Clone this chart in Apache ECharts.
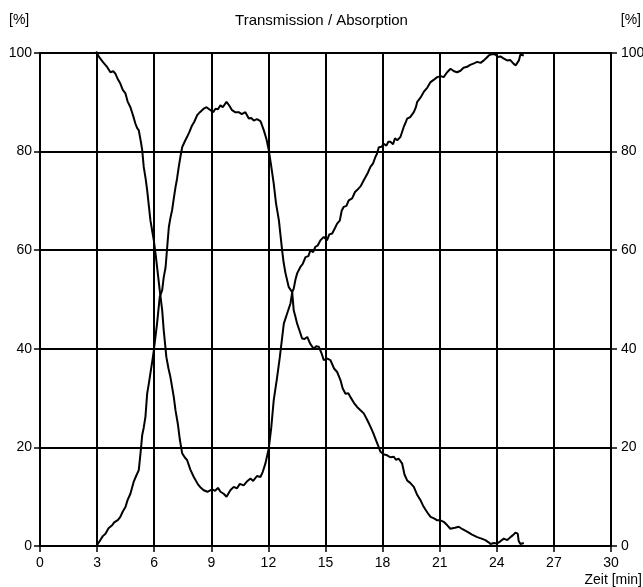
<!DOCTYPE html>
<html>
<head>
<meta charset="utf-8">
<script src="https://cdn.jsdelivr.net/npm/echarts@6/dist/echarts.min.js"></script>
<style>
html,body{margin:0;padding:0;background:#fff;}
#chart{width:643px;height:587px;}
</style>
</head>
<body>
<div id="chart"></div>
<script>
const chartTitle = "Transmission / Absorption";
const xAxisName = "Zeit [min]";
const yUnit = "[%]";
const xTicks = [0, 3, 6, 9, 12, 15, 18, 21, 24, 27, 30];
const yTicks = [0, 20, 40, 60, 80, 100];

// Curve 1: falls from 100 to ~10 and rises back to ~100
const curve1 = [[2.95,100.3],[3.1,99.2],[3.3,98.2],[3.5,97.3],[3.7,96.1],[3.85,96.3],[3.96,95.8],[4.1,94.6],[4.22,93.8],[4.35,92.5],[4.49,91.8],[4.6,90.2],[4.75,89.0],[4.9,87.2],[5.01,85.7],[5.1,84.8],[5.19,84.3],[5.3,82.0],[5.37,80.3],[5.45,76.9],[5.55,74.5],[5.63,72.2],[5.72,69.0],[5.80,66.1],[5.9,63.8],[5.98,62.0],[6.08,59.0],[6.15,56.6],[6.29,51.9],[6.42,47.8],[6.5,43.8],[6.64,38.3],[6.75,36.0],[6.85,34.3],[7.03,30.2],[7.12,27.5],[7.24,24.8],[7.35,21.5],[7.47,18.8],[7.6,18.0],[7.73,17.4],[7.9,15.5],[8.08,14.0],[8.3,12.5],[8.45,11.8],[8.6,11.3],[8.8,11.0],[9.04,11.5],[9.2,11.2],[9.35,11.8],[9.48,11.0],[9.65,10.6],[9.8,10.0],[10.0,11.3],[10.18,12.0],[10.35,11.7],[10.5,12.6],[10.7,12.3],[10.9,13.2],[11.06,13.7],[11.2,13.2],[11.4,14.2],[11.58,14.0],[11.7,15.0],[11.84,16.7],[12.02,19.8],[12.15,24.0],[12.28,29.6],[12.45,34.0],[12.6,38.3],[12.81,45.1],[12.98,47.1],[13.16,49.2],[13.25,51.5],[13.33,52.2],[13.42,54.0],[13.51,55.3],[13.68,56.6],[13.8,57.2],[13.95,58.6],[14.1,58.8],[14.21,60.0],[14.35,59.6],[14.47,60.7],[14.6,61.0],[14.73,62.0],[14.91,62.7],[15.08,62.0],[15.2,63.2],[15.35,63.4],[15.5,64.5],[15.61,65.4],[15.75,66.0],[15.85,68.0],[15.96,68.8],[16.1,69.0],[16.22,70.1],[16.4,70.5],[16.55,71.8],[16.66,72.2],[16.85,73.0],[17.01,74.2],[17.2,75.5],[17.36,76.9],[17.5,77.6],[17.62,78.9],[17.7,79.5],[17.8,80.9],[17.95,81.0],[18.06,81.6],[18.2,81.2],[18.3,82.0],[18.41,82.0],[18.55,81.5],[18.65,82.7],[18.77,82.3],[18.94,83.0],[19.11,85.0],[19.2,85.8],[19.29,86.7],[19.45,87.0],[19.64,88.0],[19.75,89.0],[19.82,90.1],[20.0,91.0],[20.16,92.1],[20.35,93.0],[20.52,94.1],[20.7,94.6],[20.87,95.1],[20.95,94.8],[21.05,95.3],[21.21,95.1],[21.39,96.1],[21.57,96.8],[21.75,96.3],[21.92,96.1],[22.09,96.4],[22.25,97.0],[22.44,97.2],[22.6,97.6],[22.8,97.9],[22.97,98.2],[23.15,98.0],[23.32,98.5],[23.45,99.0],[23.58,99.5],[23.75,99.8],[23.93,99.7],[24.05,99.2],[24.19,99.3],[24.35,98.9],[24.54,98.5],[24.7,98.6],[24.89,97.8],[25.0,97.5],[25.07,97.3],[25.16,98.5],[25.24,99.7],[25.42,99.5]];

// Curve 2: rises from 0 to ~90 and falls back to ~0
const curve2 = [[2.95,0],[3.05,0.5],[3.17,1.2],[3.3,2.0],[3.44,2.5],[3.6,3.6],[3.79,4.2],[3.9,4.8],[3.96,4.6],[4.1,5.3],[4.22,5.9],[4.35,7.0],[4.49,7.9],[4.6,9.3],[4.75,10.6],[4.92,13.0],[5.05,14.2],[5.19,15.4],[5.28,18.8],[5.37,22.5],[5.45,24.0],[5.54,26.2],[5.63,30.9],[5.72,33.0],[5.80,35.0],[5.9,37.5],[5.98,39.7],[6.15,45.1],[6.29,50.5],[6.42,51.9],[6.5,54.5],[6.6,56.6],[6.68,60.5],[6.77,64.7],[6.85,66.5],[6.94,68.1],[7.03,70.5],[7.12,72.8],[7.2,74.5],[7.29,76.9],[7.38,79.0],[7.47,80.9],[7.6,82.0],[7.73,83.0],[7.85,84.0],[7.99,85.3],[8.1,86.0],[8.26,87.4],[8.4,88.0],[8.6,88.7],[8.75,89.0],[8.96,88.4],[9.1,88.0],[9.22,88.7],[9.35,88.6],[9.48,89.4],[9.6,89.0],[9.8,90.1],[9.95,89.3],[10.09,88.4],[10.25,88.0],[10.44,88.0],[10.6,87.6],[10.79,88.0],[10.97,86.7],[11.1,86.8],[11.23,86.3],[11.4,86.6],[11.58,86.2],[11.65,85.5],[11.76,84.3],[11.9,82.5],[12.02,80.3],[12.15,77.0],[12.28,73.5],[12.4,69.5],[12.55,66.1],[12.72,60.0],[12.8,57.5],[12.9,55.3],[13.07,52.5],[13.25,51.5],[13.33,47.8],[13.42,46.5],[13.51,45.1],[13.65,43.5],[13.77,42.1],[13.9,42.0],[14.04,42.4],[14.2,41.0],[14.38,40.0],[14.5,40.5],[14.65,40.4],[14.8,39.0],[14.91,37.7],[15.1,38.0],[15.26,37.7],[15.45,36.0],[15.61,35.3],[15.79,33.6],[15.9,32.0],[16.05,30.9],[16.2,31.0],[16.31,30.2],[16.5,29.0],[16.66,28.2],[16.85,27.5],[17.01,26.9],[17.2,25.5],[17.36,24.2],[17.5,23.0],[17.62,21.8],[17.75,20.5],[17.89,19.1],[18.05,18.6],[18.24,18.4],[18.4,18.0],[18.59,18.1],[18.7,17.5],[18.85,17.7],[19.03,16.7],[19.15,14.5],[19.29,13.3],[19.45,12.8],[19.64,12.0],[19.8,10.5],[19.99,9.3],[20.15,8.0],[20.35,6.8],[20.52,5.9],[20.7,5.6],[20.87,5.2],[21.04,5.2],[21.21,4.9],[21.4,4.2],[21.56,3.5],[21.65,3.2],[21.8,3.7],[22.0,3.9],[22.2,3.4],[22.44,2.9],[22.7,2.3],[22.97,1.8],[23.2,1.5],[23.40,1.2],[23.55,0.8],[23.67,0.4],[23.85,0.6],[24.02,0.5],[24.2,1.0],[24.37,1.5],[24.55,1.2],[24.72,1.8],[24.85,2.2],[24.98,2.7],[25.1,2.5],[25.15,1.0],[25.24,0.4],[25.42,0.6]];

const FONT = 'Arial, "Liberation Sans", sans-serif';
const chart = echarts.init(document.getElementById('chart'), null, {renderer: 'canvas'});

const xMin = xTicks[0], xMax = xTicks[xTicks.length - 1];
const xStep = xTicks[1] - xTicks[0];
const yMin = yTicks[0], yMax = yTicks[yTicks.length - 1];
const yStep = yTicks[1] - yTicks[0];

const axisCommonY = {
  type: 'value', min: yMin, max: yMax, interval: yStep,
  axisLine: {show: true, lineStyle: {color: '#000', width: 2}},
  axisTick: {show: true, inside: false, length: 6, lineStyle: {color: '#000', width: 1.5}},
  axisLabel: {color: '#000', fontSize: 14, fontFamily: FONT, margin: 8},
  splitLine: {show: false}
};

chart.setOption({
  animation: false,
  backgroundColor: '#fff',
  grid: {left: 40, right: 32, top: 53, bottom: 41, containLabel: false, outerBoundsMode: 'none'},
  graphic: [
    {type: 'text', left: 'center', top: 13, style: {text: chartTitle, font: '15px ' + FONT, fill: '#000'}},
    {type: 'text', left: 9, top: 13, style: {text: yUnit, font: '14px ' + FONT, fill: '#000'}},
    {type: 'text', right: 2, top: 13, style: {text: yUnit, font: '14px ' + FONT, fill: '#000'}},
    {type: 'text', right: 1, top: 573, style: {text: xAxisName, font: '14px ' + FONT, fill: '#000'}}
  ],
  xAxis: {
    type: 'value', min: xMin, max: xMax, interval: xStep,
    axisLine: {show: true, onZero: false, lineStyle: {color: '#000', width: 2}},
    axisTick: {show: true, inside: false, length: 6, lineStyle: {color: '#000', width: 1.5}},
    axisLabel: {color: '#000', fontSize: 14, fontFamily: FONT, margin: 10},
    splitLine: {show: true, lineStyle: {color: '#000', width: 2}}
  },
  yAxis: [
    Object.assign({}, axisCommonY, {position: 'left', splitLine: {show: true, lineStyle: {color: '#000', width: 2}}}),
    Object.assign({}, axisCommonY, {position: 'right', axisLabel: {color: '#000', fontSize: 14, fontFamily: FONT, margin: 10}})
  ],
  series: [
    {type: 'line', data: curve1, showSymbol: false, symbol: 'none', clip: false,
     lineStyle: {color: '#000', width: 2}, z: 5},
    {type: 'line', data: curve2, showSymbol: false, symbol: 'none', clip: false,
     lineStyle: {color: '#000', width: 2}, z: 5}
  ]
});
</script>
</body>
</html>
